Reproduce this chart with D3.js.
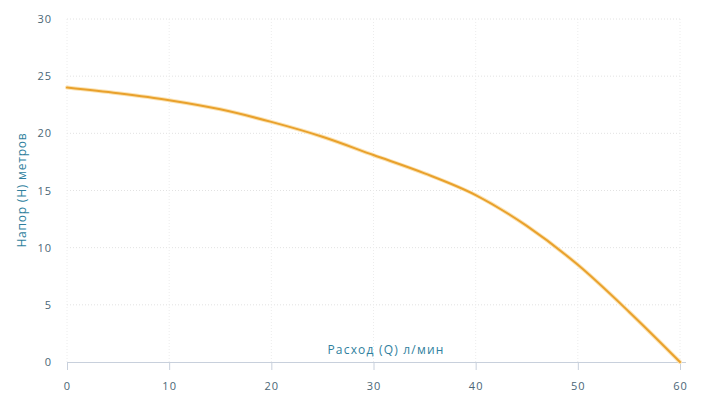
<!DOCTYPE html>
<html><head><meta charset="utf-8">
<script src="https://cdn.jsdelivr.net/npm/d3@7"></script>
<style>body{margin:0;background:#fff}svg{display:block;font-family:"Open Sans",sans-serif}</style>
</head><body><svg id="c" width="701" height="405"></svg>
<script>
const flow = [0, 5, 10, 15, 20, 25, 30, 35, 40, 45, 50, 55, 60];
const head = [24, 23.5, 22.9, 22.1, 21, 19.7, 18.1, 16.5, 14.6, 11.9, 8.5, 4.4, 0];
const xTicks = [0, 10, 20, 30, 40, 50, 60];
const yTicks = [0, 5, 10, 15, 20, 25, 30];
const xTitle = "Расход (Q) л/мин";
const yTitle = "Напор (H) метров";

const svg = d3.select("#c");
const x = d3.scaleLinear().domain([0, 60]).range([67, 680]);
const y = d3.scaleLinear().domain([0, 30]).range([362, 19]);

const grid = svg.append("g");
grid.selectAll("line.h").data(yTicks.filter(d => d > 0)).enter().append("line")
  .attr("x1", x(0)).attr("x2", x(60)).attr("y1", d => y(d)).attr("y2", d => y(d))
  .attr("stroke", "#e2e2e2").attr("stroke-dasharray", "1,2");
grid.selectAll("line.v").data(xTicks).enter().append("line")
  .attr("y1", y(30)).attr("y2", y(0)).attr("x1", d => x(d)).attr("x2", d => x(d))
  .attr("stroke", "#ececec").attr("stroke-dasharray", "1,2");

svg.append("line").attr("x1", x(0)).attr("x2", x(60) + 6).attr("y1", y(0) + 0.5).attr("y2", y(0) + 0.5)
  .attr("stroke", "#c8d0dc");
svg.selectAll("line.tk").data(xTicks).enter().append("line")
  .attr("x1", d => x(d) + 0.5).attr("x2", d => x(d) + 0.5).attr("y1", y(0)).attr("y2", y(0) + 8)
  .attr("stroke", "#c8d0dc");

svg.selectAll("text.xt").data(xTicks).enter().append("text")
  .attr("x", d => x(d) + 0.5).attr("y", 390).attr("text-anchor", "middle")
  .attr("font-size", 11).attr("letter-spacing", 1).attr("fill", "#4a6676").text(d => d);
svg.selectAll("text.yt").data(yTicks).enter().append("text")
  .attr("x", 52).attr("y", d => y(d) + 4).attr("text-anchor", "end")
  .attr("font-size", 11).attr("letter-spacing", 1).attr("fill", "#4a6676").text(d => d);

svg.append("text").attr("x", 386).attr("y", 354).attr("text-anchor", "middle")
  .attr("font-size", 12).attr("letter-spacing", 1.2).attr("fill", "#2f7f9e").text(xTitle);
svg.append("text").attr("transform", "translate(26,190) rotate(-90)").attr("text-anchor", "middle")
  .attr("font-size", 12).attr("letter-spacing", 0.8).attr("fill", "#2f7f9e").text(yTitle);

const pts = flow.map((f, i) => [f, head[i]]);
const line = d3.line().x(d => x(d[0])).y(d => y(d[1])).curve(d3.curveMonotoneX);
svg.append("path").datum(pts).attr("d", line).attr("fill", "none")
  .attr("stroke", "#fbe3b4").attr("stroke-width", 4).attr("stroke-linecap", "round");
svg.append("path").datum(pts).attr("d", line).attr("fill", "none")
  .attr("stroke", "#e9a12c").attr("stroke-width", 2).attr("stroke-linecap", "round");
</script></body></html>
